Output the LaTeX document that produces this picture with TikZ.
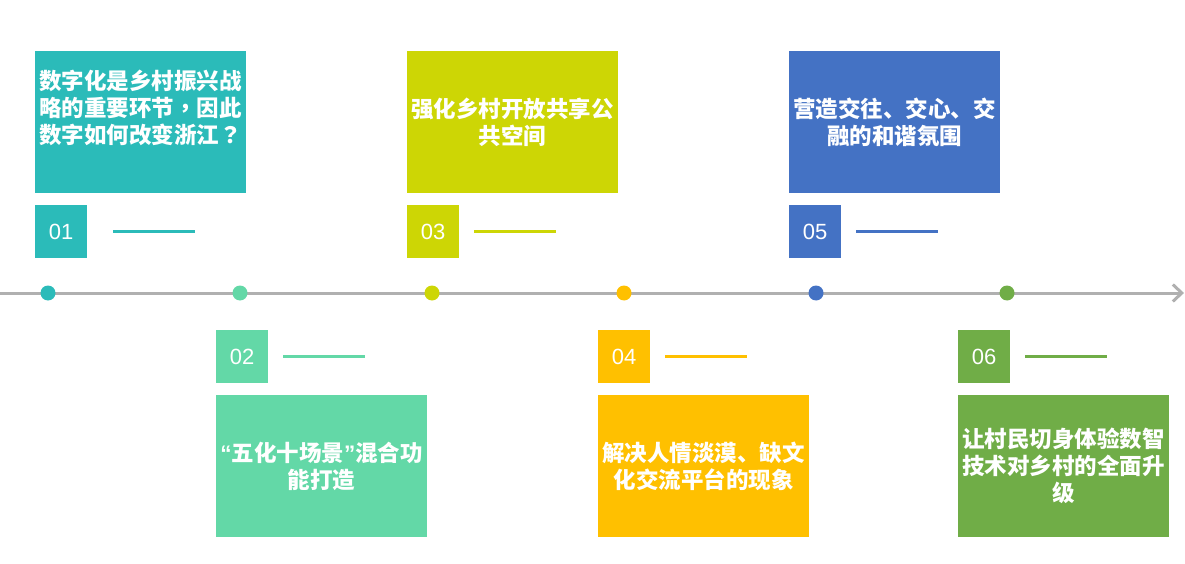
\documentclass[tikz,border=0pt]{standalone}
\usepackage{fontspec}
\setmainfont{Liberation Sans}
\newfontfamily\cjk{Noto Sans CJK SC}
\newfontfamily\cjkpunct{Noto Sans CJK TC}
\newfontfamily\latin{Liberation Sans}
\usetikzlibrary{arrows.meta}
\definecolor{cA}{RGB}{43,187,185}
\definecolor{cB}{RGB}{99,216,167}
\definecolor{cC}{RGB}{205,214,5}
\definecolor{cD}{RGB}{255,192,0}
\definecolor{cE}{RGB}{68,114,196}
\definecolor{cF}{RGB}{112,173,71}
\definecolor{axisgray}{RGB}{176,176,176}
\tikzset{
  numbox/.style={fill=#1, anchor=north west, minimum width=52pt, minimum height=53pt,
    inner sep=0pt, text=white, font=\fontsize{22}{22}\selectfont},
  textbox/.style={fill=#1, anchor=north west, minimum width=211pt, minimum height=142pt, inner sep=0pt},
  boxtext/.style={text=white, align=center, inner sep=0pt,
    font=\cjk\bfseries\fontsize{22.5}{27}\selectfont},
  dot/.style={circle, fill=#1, minimum size=15pt, inner sep=0pt},
  barline/.style={#1, line width=3pt},
}
\begin{document}
\begin{tikzpicture}[x=1pt,y=-1pt]
\useasboundingbox (0,0) rectangle (1185,564);
% time axis
\coordinate (start) at (0,293);
\coordinate (end) at (1184,293);
\draw[axisgray, line width=3pt, -{Straight Barb[length=9pt,width=17pt]}] (start) -- (end);
\foreach \i/\x/\col in {1/48/cA, 2/240/cB, 3/432/cC, 4/624/cD, 5/816/cE, 6/1007/cF}
  \node[dot=\col] (d\i) at (\x,293) {};
% items above the axis
\foreach \i/\x/\col/\dy/\gap/\txt in {1/35/cA/14/26/{数字化是乡村振兴战\\略的重要环节{\cjkpunct ，}因此\\数字如何改变浙江{\cjkpunct ？}},
    3/407/cC/0/15/{强化乡村开放共享公\\共空间},
    5/789/cE/0/15/{营造交往、交心、交\\融的和谐氛围}} {
  \node[textbox=\col] (b\i) at (\x,51) {};
  \node[boxtext] (t\i) at ([yshift=\dy pt]b\i.center) {\txt};
  \node[numbox=\col] (n\i) at (\x,205) {0\i};
  \coordinate (l\i) at ([xshift=\gap pt]n\i.east);
  \draw[barline=\col] (l\i) -- ++(82,0);
}
% items below the axis
\foreach \i/\x/\col/\txt in {2/216/cB/{{\latin\bfseries “}五化十场景{\latin\bfseries ”}混合功\\能打造},
    4/598/cD/{解决人情淡漠、缺文\\化交流平台的现象},
    6/958/cF/{让村民切身体验数智\\技术对乡村的全面升\\级}} {
  \node[numbox=\col] (n\i) at (\x,330) {0\i};
  \coordinate (l\i) at ([xshift=15pt]n\i.east);
  \draw[barline=\col] (l\i) -- ++(82,0);
  \node[textbox=\col] (b\i) at (\x,395) {};
  \node[boxtext] (t\i) at (b\i.center) {\txt};
}
\end{tikzpicture}
\end{document}
